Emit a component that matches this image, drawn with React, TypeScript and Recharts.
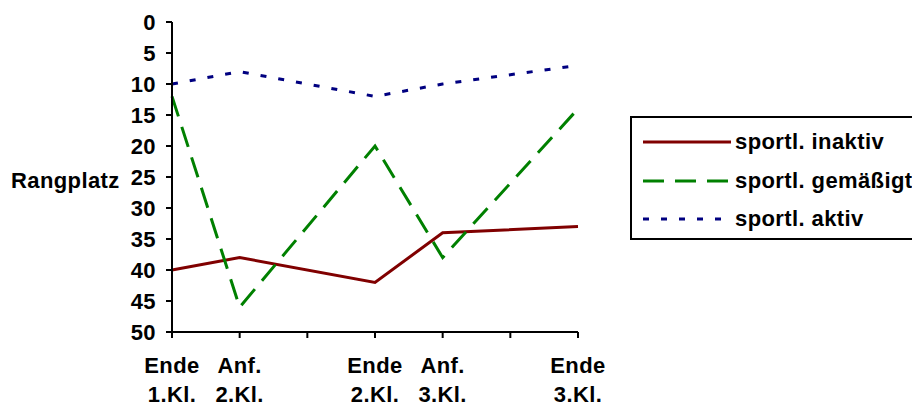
import React from "react";
import { LineChart, Line, XAxis, YAxis, Legend } from "recharts";

// x positions on the time axis (0..6), labels are shown only where data exists
const xPos = [0, 1, 3, 4, 6];
const xTop = ["Ende", "Anf.", "Ende", "Anf.", "Ende"];
const xBottom = ["1.Kl.", "2.Kl.", "2.Kl.", "3.Kl.", "3.Kl."];

const inaktiv = [40, 38, 42, 34, 33];
const gemaessigt = [12, 46, 20, 38, 14];
const aktiv = [10, 8, 12, 10, 7];

const yTicks = [0, 5, 10, 15, 20, 25, 30, 35, 40, 45, 50];
const xTicks = [0, 1, 2, 3, 4, 5, 6];

const SERIES = [
  { key: "inaktiv", name: "sportl. inaktiv", color: "#800000", dash: undefined },
  { key: "gemaessigt", name: "sportl. gemäßigt", color: "#008000", dash: "21 11" },
  { key: "aktiv", name: "sportl. aktiv", color: "#000080", dash: "6 12" },
];

const data = xPos.map((x, i) => ({
  x,
  inaktiv: inaktiv[i],
  gemaessigt: gemaessigt[i],
  aktiv: aktiv[i],
}));

const FONT = "'Liberation Sans', Arial, sans-serif";
const FS = 22;
const LS = 0.4;

const XTick = (props: any) => {
  const { x, y, payload } = props;
  const idx = xPos.indexOf(payload.value);
  if (idx < 0) return null;
  return (
    <text x={x} y={y} textAnchor="middle" fontSize={FS} letterSpacing={LS} fontWeight="bold" fill="#000" fontFamily={FONT}>
      <tspan x={x} dy={33}>{xTop[idx]}</tspan>
      <tspan x={x} dy={29}>{xBottom[idx]}</tspan>
    </text>
  );
};

const LegendBox = () => (
  <div
    style={{
      border: "2px solid #000",
      boxSizing: "border-box",
      width: 300,
      height: 124,
      background: "#fff",
      paddingTop: 5,
      paddingLeft: 10,
    }}
  >
    {SERIES.map((s) => (
      <div key={s.key} style={{ display: "flex", alignItems: "center", height: 38.5 }}>
        <svg width={90} height={10}>
          <line x1={1} y1={5} x2={89} y2={5} stroke={s.color} strokeWidth={3} strokeDasharray={s.dash} />
        </svg>
        <span
          style={{
            fontFamily: FONT,
            fontWeight: "bold",
            fontSize: FS,
            letterSpacing: LS,
            marginLeft: 3,
            whiteSpace: "nowrap",
          }}
        >
          {s.name}
        </span>
      </div>
    ))}
  </div>
);

export default function App() {
  return (
    <div style={{ position: "absolute", left: 0, top: 0, width: 912, height: 407, overflow: "hidden", background: "#fff" }}>
      <LineChart width={912} height={407} data={data} margin={{ top: 22, right: 334, bottom: 0, left: 0 }}>
        <XAxis
          dataKey="x"
          type="number"
          domain={[0, 6]}
          ticks={xTicks}
          interval={0}
          height={75}
          tick={<XTick />}
          tickSize={6}
          axisLine={{ stroke: "#000", strokeWidth: 2 }}
          tickLine={{ stroke: "#000", strokeWidth: 2 }}
        />
        <YAxis
          type="number"
          reversed
          domain={[0, 50]}
          ticks={yTicks}
          interval={0}
          width={172}
          tickSize={6}
          tickMargin={10}
          axisLine={{ stroke: "#000", strokeWidth: 2 }}
          tickLine={{ stroke: "#000", strokeWidth: 2 }}
          tick={{ fill: "#000", fontSize: FS, letterSpacing: LS, fontWeight: "bold", fontFamily: FONT }}
          label={{
            content: () => (
              <text x={11} y={188} textAnchor="start" fontSize={FS} letterSpacing={LS} fontWeight="bold" fill="#000" fontFamily={FONT}>
                Rangplatz
              </text>
            ),
          }}
        />
        <Legend
          layout="vertical"
          align="center"
          verticalAlign="middle"
          wrapperStyle={{ left: 630, top: 116, width: 300, height: 124 }}
          content={<LegendBox />}
        />
        {SERIES.map((s) => (
          <Line
            key={s.key}
            dataKey={s.key}
            name={s.name}
            type="linear"
            stroke={s.color}
            strokeWidth={3}
            strokeDasharray={s.dash}
            dot={false}
            activeDot={false}
            isAnimationActive={false}
          />
        ))}
      </LineChart>
    </div>
  );
}
